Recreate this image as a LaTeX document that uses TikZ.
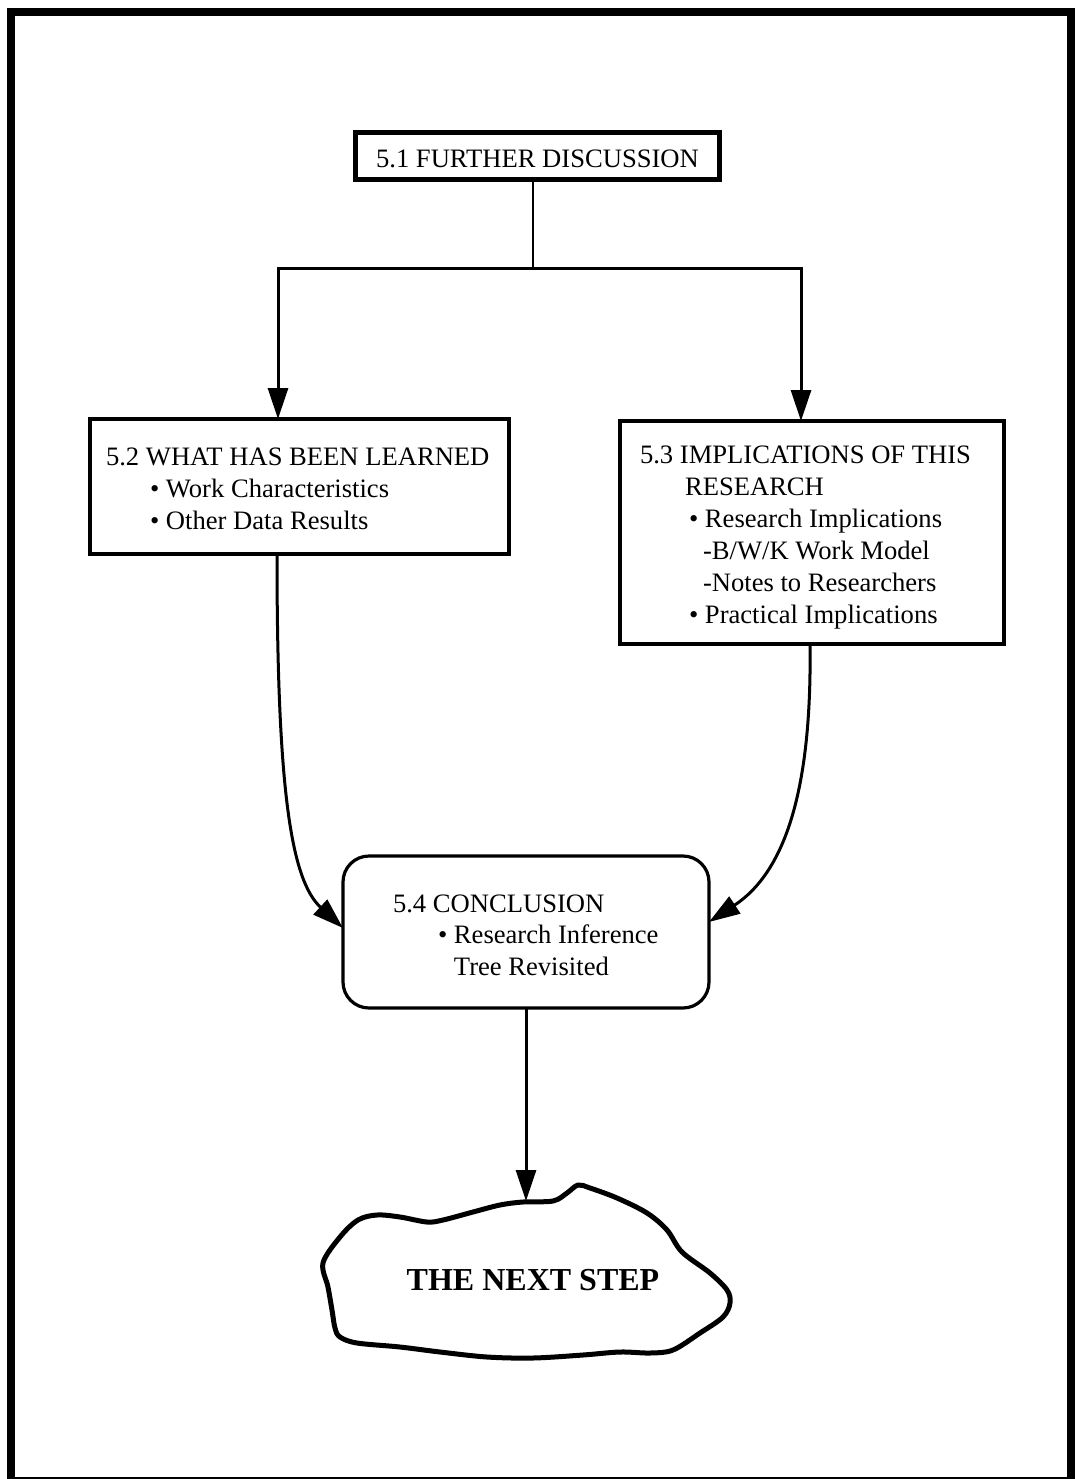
\documentclass[tikz,border=0pt]{standalone}
\usepackage{fontspec}
\setmainfont{Liberation Serif}
\usetikzlibrary{arrows.meta}
\begin{document}
\begin{tikzpicture}[x=1pt,y=-1pt,
  every node/.style={inner sep=0pt, outer sep=0pt},
  txt/.style={anchor=base west, font=\fontsize{26.6}{32}\selectfont},
  boxshape/.style={draw, line width=3.2pt, inner sep=0pt, rectangle},
  conn/.style={line width=3pt, -{Triangle[length=31pt,width=20pt]}},
  plainline/.style={line width=2.6pt}
]
\useasboundingbox (0,0) rectangle (1074,1479);
% page frame (its lower edge runs along the page border)
\draw[line width=8pt, line join=miter] (11,1480) -- (11,12) -- (1070.5,12) -- (1070.5,1480);
\draw[line width=3pt] (11,1478) -- (1070.5,1478);

% boxes
\node[boxshape, line width=5pt, minimum width=364.5pt, minimum height=47pt] (b51) at (537.25,156) {};
\node[boxshape, minimum width=419pt, minimum height=135pt] (b52) at (299.5,486.5) {};
\node[boxshape, minimum width=384pt, minimum height=223pt] (b53) at (812,532.5) {};
\node[boxshape, rounded corners=26pt, minimum width=366pt, minimum height=152pt] (b54) at (526,932) {};

% box texts
\node[txt, anchor=base] (t51) at (537.5,168) {5.1 FURTHER DISCUSSION};

\node[txt] (t52a) at (106,465) {5.2 WHAT HAS BEEN LEARNED};
\node[txt] (t52b) at (150,497) {• Work Characteristics};
\node[txt] (t52c) at (150,529) {• Other Data Results};

\node[txt] (t53a) at (640,463) {5.3 IMPLICATIONS OF THIS};
\node[txt] (t53b) at (685,495) {RESEARCH};
\node[txt] (t53c) at (689,527) {• Research Implications};
\node[txt] (t53d) at (703,559) {-B/W/K Work Model};
\node[txt] (t53e) at (703,591) {-Notes to Researchers};
\node[txt] (t53f) at (689,623) {• Practical Implications};

\node[txt] (t54a) at (393,912) {5.4 CONCLUSION};
\node[txt] (t54b) at (438,943) {• Research Inference};
\node[txt] (t54c) at (438,975) {\hphantom{• }Tree Revisited};

% the closing cloud
\draw[line width=5pt, line join=round] plot[smooth cycle, tension=0.55] coordinates {
  (523,1202) (553,1201) (567,1193) (578,1185) (590,1188) (617,1198)
  (647,1213) (667,1230) (682,1252) (710,1273) (727,1290) (730,1303)
  (723,1317) (700,1333) (673,1350) (650,1353) (620,1352) (583,1355)
  (533,1358) (487,1357) (440,1352) (400,1347) (357,1343) (340,1337)
  (335,1328) (332,1310) (328,1287) (323,1263) (340,1237) (358,1220)
  (377,1215) (400,1217) (427,1222) (443,1220) (473,1212) (500,1205)};
\node[anchor=base, font=\bfseries\fontsize{32}{38}\selectfont] (ns) at (533,1290) {THE NEXT STEP};
\coordinate (nstop) at (524,1201);

% connectors
\coordinate (j) at (533,268);
\coordinate (jl) at (278,268);
\coordinate (jr) at (801,268);
\draw[plainline] (j |- b51.south) -- (j);
\draw[conn, line join=miter] (j) -- (jl) -- (jl |- b52.north);
\draw[conn, line join=miter] (j) -- (jr) -- (jr |- b53.north);

\coordinate (l0) at (277,554);
\coordinate (l1) at (343,928);
\draw[conn] (l0 |- b52.south) .. controls (277,790) and (291,880) .. (l1 -| b54.west);

\coordinate (r0) at (810,644);
\coordinate (r1) at (709,922);
\draw[conn] (r0 |- b53.south) .. controls (812,790) and (785,872) .. (r1 -| b54.east);

\draw[conn] (b54.south) -- (b54.south |- nstop);
\end{tikzpicture}
\end{document}
